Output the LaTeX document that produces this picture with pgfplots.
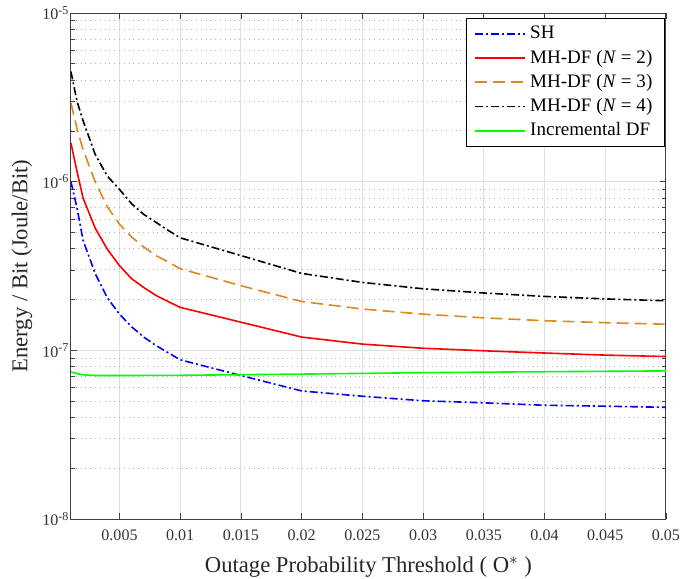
\documentclass[border=0pt]{standalone}
\usepackage{fontspec}
\setmainfont{Liberation Serif}
\usepackage{pgfplots}
\pgfplotsset{compat=1.18}
\definecolor{mhorange}{RGB}{222,135,30}
\definecolor{incgreen}{RGB}{0,255,0}
\begin{document}
\begin{tikzpicture}
\begin{axis}[
  name=ax,
  scale only axis,
  width=297pt, height=252.6pt,
  ymode=log,
  xmin=0.001, xmax=0.05,
  ymin=1e-8, ymax=1e-5,
  xtick={0.005,0.01,0.015,0.02,0.025,0.03,0.035,0.04,0.045,0.05},
  xticklabels={0.005,0.01,0.015,0.02,0.025,0.03,0.035,0.04,0.045,0.05},
  ytick={1e-8,1e-7,1e-6,1e-5},
  yticklabels={10\textsuperscript{-8},10\textsuperscript{-7},10\textsuperscript{-6},10\textsuperscript{-5}},
  scaled x ticks=false,
  tick label style={font=\fontsize{8}{9}\selectfont, text=black!80},
  xticklabel style={yshift=-1.8pt},
  yticklabel style={inner xsep=0.6pt},
  label style={font=\fontsize{11.3}{13}\selectfont, text=black!85},
  xlabel={Outage Probability Threshold ( O$^{*}$ )},
  ylabel={Energy / Bit (Joule/Bit)},
  xlabel style={at={(axis description cs:0.5,-0.095)}, anchor=center},
  ylabel style={at={(axis description cs:-0.0824,0.5)}, anchor=center},
  xmajorgrids, ymajorgrids, yminorgrids,
  major grid style={color=black!12, line width=0.5pt},
  minor grid style={color=black!30, dotted, line width=0.5pt},
  axis line style={black!75, line width=0.5pt},
  major tick length=3pt, minor tick length=1.8pt,
  every tick/.style={black!75},
  tick align=inside,
  legend style={at={(0.998,0.9905)}, anchor=north east, fill=white,
    font=\fontsize{9.5}{11.5}\selectfont, cells={anchor=west},
    inner xsep=4pt, inner ysep=2pt},
  legend cell align=left,
  legend image code/.code={\draw[mark repeat=2,mark phase=2,line width=0.9pt,#1] plot coordinates {(0pt,0pt) (12.5pt,0pt) (25pt,0pt)};},
]
\addplot[color=blue, line width=0.8pt, dash pattern=on 4pt off 1.5pt on 1pt off 1.5pt] coordinates {
(0.001,1.0e-6) (0.0015,7.0e-7) (0.002,4.5e-7) (0.003,2.85e-7) (0.004,2.05e-7)
(0.005,1.64e-7) (0.006,1.38e-7) (0.007,1.2e-7) (0.008,1.07e-7) (0.009,9.7e-8)
(0.01,8.8e-8) (0.015,7.1e-8) (0.02,5.75e-8) (0.025,5.35e-8) (0.03,5.03e-8)
(0.035,4.89e-8) (0.04,4.73e-8) (0.045,4.67e-8) (0.05,4.6e-8)};
\addlegendentry{SH}
\addplot[color=red, line width=0.8pt] coordinates {
(0.001,1.70e-6) (0.0015,1.15e-6) (0.002,8.0e-7) (0.003,5.3e-7) (0.004,3.98e-7)
(0.005,3.18e-7) (0.006,2.66e-7) (0.007,2.36e-7) (0.008,2.12e-7) (0.009,1.95e-7)
(0.01,1.80e-7) (0.015,1.47e-7) (0.02,1.20e-7) (0.025,1.09e-7) (0.03,1.03e-7)
(0.035,9.95e-8) (0.04,9.65e-8) (0.045,9.38e-8) (0.05,9.2e-8)};
\addlegendentry{MH-DF (\textit{N} = 2)}
\addplot[color=mhorange, line width=0.8pt, dash pattern=on 6pt off 3pt] coordinates {
(0.001,2.93e-6) (0.0015,2.06e-6) (0.002,1.55e-6) (0.003,1.0e-6) (0.004,7.1e-7)
(0.005,5.6e-7) (0.006,4.7e-7) (0.007,4.1e-7) (0.008,3.65e-7) (0.009,3.35e-7)
(0.01,3.05e-7) (0.015,2.42e-7) (0.02,1.95e-7) (0.025,1.76e-7) (0.03,1.64e-7)
(0.035,1.56e-7) (0.04,1.50e-7) (0.045,1.46e-7) (0.05,1.43e-7)};
\addlegendentry{MH-DF (\textit{N} = 3)}
\addplot[color=black, line width=0.8pt, dash pattern=on 4pt off 1.5pt on 1pt off 1.5pt] coordinates {
(0.001,4.5e-6) (0.0015,3.0e-6) (0.002,2.3e-6) (0.003,1.45e-6) (0.004,1.08e-6)
(0.005,9.0e-7) (0.006,7.4e-7) (0.007,6.4e-7) (0.008,5.75e-7) (0.009,5.15e-7)
(0.01,4.65e-7) (0.015,3.65e-7) (0.02,2.86e-7) (0.025,2.53e-7) (0.03,2.32e-7)
(0.035,2.19e-7) (0.04,2.09e-7) (0.045,2.02e-7) (0.05,1.97e-7)};
\addlegendentry{MH-DF (\textit{N} = 4)}
\addplot[color=incgreen, line width=0.8pt] coordinates {
(0.001,7.45e-8) (0.0015,7.3e-8) (0.002,7.17e-8) (0.003,7.1e-8) (0.005,7.1e-8)
(0.01,7.12e-8) (0.015,7.18e-8) (0.02,7.24e-8) (0.03,7.38e-8) (0.04,7.48e-8)
(0.05,7.56e-8)};
\addlegendentry{Incremental DF}
\end{axis}
\pgfresetboundingbox
\path[use as bounding box] ([xshift=-35.4pt,yshift=-29.5pt]ax.south west) rectangle ([xshift=12.5pt,yshift=6.5pt]ax.north east);
\end{tikzpicture}
\end{document}
